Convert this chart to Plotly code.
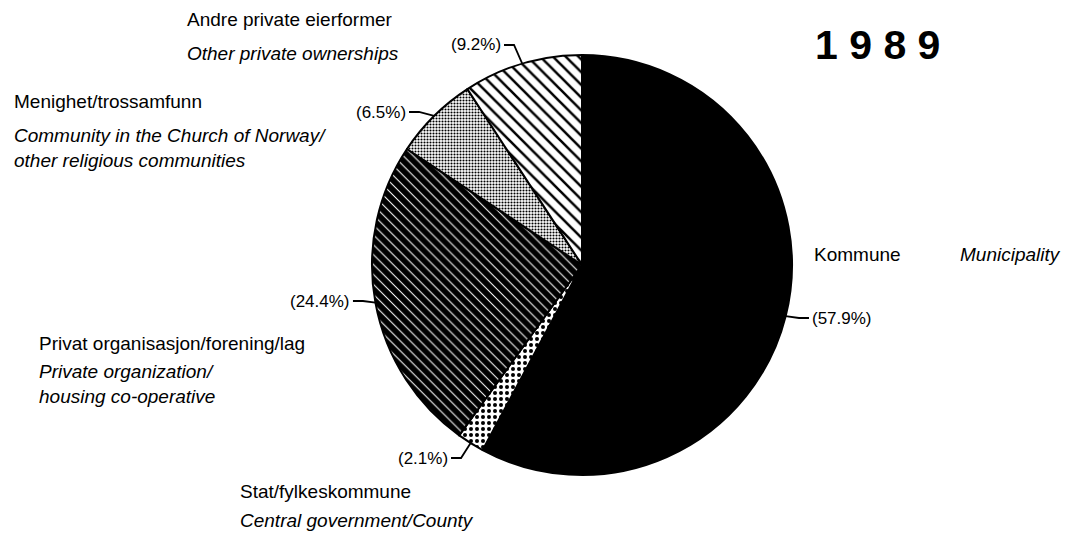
import math
import plotly.graph_objects as go

# ---- data ----
labels_no = ["Kommune", "Stat/fylkeskommune", "Privat organisasjon/forening/lag",
             "Menighet/trossamfunn", "Andre private eierformer"]
labels_en = ["Municipality", "Central government/County", "Private organization/<br>housing co-operative",
             "Community in the Church of Norway/<br>other religious communities", "Other private ownerships"]
values = [57.9, 2.1, 24.4, 6.5, 9.2]
title_text = "1 9 8 9"

W, H = 1066, 533
CX, CY, R = 582, 265, 210

def px(x):
    return x / W

def py(y):
    return 1 - y / H

FONT = "Liberation Sans, Arial"

pattern = dict(
    shape=["", ".", "\\", ".", "\\"],
    bgcolor=["black", "white", "black", "white", "white"],
    fgcolor=["black", "black", "white", "black", "black"],
    size=[6, 6, 7, 3, 9],
    solidity=[0.3, 0.35, 0.15, 0.4, 0.28],
)
colors = ["black", "white", "black", "white", "white"]

fig = go.Figure(go.Pie(
    labels=labels_no,
    values=values,
    sort=False,
    direction="clockwise",
    rotation=0,
    textinfo="none",
    hoverinfo="label+percent",
    marker=dict(colors=colors, pattern=pattern, line=dict(color="black", width=2)),
    domain=dict(x=[px(CX - R), px(CX + R)], y=[py(CY + R), py(CY - R)]),
    showlegend=False,
))

# label text positions (pixel, left anchored)
label_pos = [
    (812, 255),   # Kommune
    (238, 491),   # Stat
    (37, 343),    # Privat
    (12, 101),    # Menighet
    (185, 20),    # Andre
]
en_pos = [
    (958, 255),
    (238, 520),
    (37, 384),
    (12, 148),
    (185, 54),
]
pct_pos = [
    (810, 318, "left"),
    (450, 458, "right"),
    (352, 301, "right"),
    (408, 112, "right"),
    (503, 45, "right"),
]

ann = []
for i in range(len(values)):
    x, y = label_pos[i]
    ann.append(dict(x=px(x), y=py(y), xref="paper", yref="paper", xanchor="left", yanchor="middle",
                    text=labels_no[i], showarrow=False, font=dict(family=FONT, size=19, color="black")))
    x, y = en_pos[i]
    ann.append(dict(x=px(x), y=py(y), xref="paper", yref="paper", xanchor="left", yanchor="middle",
                    align="left", text="<i>" + labels_en[i] + "</i>", showarrow=False,
                    font=dict(family=FONT, size=19, color="black")))
    x, y, anc = pct_pos[i]
    ann.append(dict(x=px(x), y=py(y), xref="paper", yref="paper", xanchor=anc, yanchor="middle",
                    text="(%.1f%%)" % values[i], showarrow=False,
                    font=dict(family=FONT, size=17, color="black")))

ann.append(dict(x=px(877), y=py(45), xref="paper", yref="paper", xanchor="center", yanchor="middle",
                text="<b>" + title_text + "</b>", showarrow=False,
                font=dict(family=FONT, size=41, color="black")))

# leader lines from slice mid-angle on the rim to the percent labels
shapes = []
total = sum(values)
cum = 0
for i, v in enumerate(values):
    mid = (cum + v / 2) / total * 2 * math.pi
    cum += v
    ex = CX + R * math.sin(mid)
    ey = CY - R * math.cos(mid)
    lx, ly, anc = pct_pos[i]
    if anc == "right":
        sx = lx + 1
        kx = sx + 10
    else:
        sx = lx - 1
        kx = sx - 10
    path = "M %.4f %.4f L %.4f %.4f L %.4f %.4f" % (px(sx), py(ly), px(kx), py(ly), px(ex), py(ey))
    shapes.append(dict(type="path", xref="paper", yref="paper", path=path,
                       line=dict(color="black", width=1.8)))

fig.update_layout(
    width=W, height=H,
    margin=dict(l=0, r=0, t=0, b=0),
    paper_bgcolor="white", plot_bgcolor="white",
    annotations=ann, shapes=shapes,
)

fig.write_html("out.html", config={"displayModeBar": False},
               post_script="document.body.style.margin='0';document.body.style.overflow='hidden';")
